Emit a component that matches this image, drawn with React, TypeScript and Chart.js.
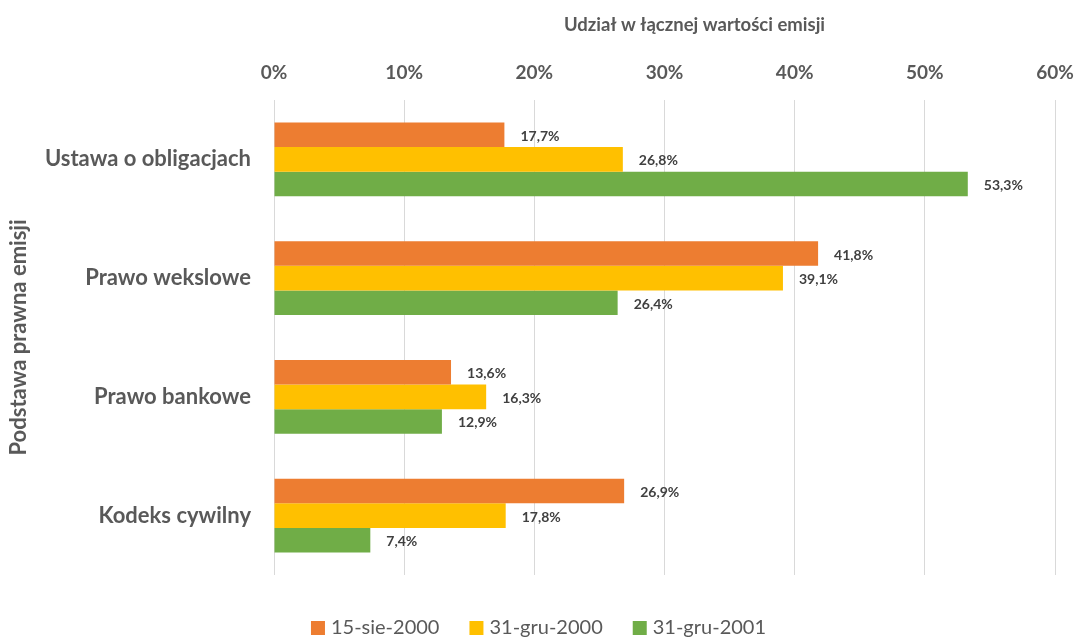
import React, { useEffect, useRef } from "react";
import { Chart, registerables } from "chart.js";

Chart.register(...registerables);

const categories = ["Ustawa o obligacjach", "Prawo wekslowe", "Prawo bankowe", "Kodeks cywilny"];
const seriesNames = ["15-sie-2000", "31-gru-2000", "31-gru-2001"];
const series1 = [17.7, 41.8, 13.6, 26.9];
const series2 = [26.8, 39.1, 16.3, 17.8];
const series3 = [53.3, 26.4, 12.9, 7.4];
const colors = ["#ED7D31", "#FFC000", "#70AD47"];
const xTitle = "Udział w łącznej wartości emisji";
const yTitle = "Podstawa prawna emisji";

const FONT = "Lato, 'Open Sans', sans-serif";
const GRAY = "#595959";

const labelPlugin = {
  id: "barLabels",
  afterDatasetsDraw(chart: any) {
    const ctx = chart.ctx;
    ctx.save();
    ctx.font = `bold 14px ${FONT}`;
    ctx.fillStyle = "#404040";
    ctx.textAlign = "left";
    ctx.textBaseline = "middle";
    chart.data.datasets.forEach((ds: any, i: number) => {
      const meta = chart.getDatasetMeta(i);
      meta.data.forEach((bar: any, j: number) => {
        const v = ds.data[j];
        const txt = v.toFixed(1).replace(".", ",") + "%";
        ctx.fillText(txt, bar.x + 16, bar.y + 1.5);
      });
    });
    ctx.restore();
  },
};

const titleLegendPlugin = {
  id: "titleLegend",
  afterDraw(chart: any) {
    const ctx = chart.ctx;
    ctx.save();
    // x-axis title
    ctx.font = `bold 18.5px ${FONT}`;
    ctx.fillStyle = GRAY;
    ctx.textAlign = "center";
    ctx.textBaseline = "middle";
    ctx.fillText(xTitle, chart.chartArea.left + (chart.chartArea.right - chart.chartArea.left) / 2 + 30, 25);
    // legend
    ctx.font = `20px ${FONT}`;
    ctx.textAlign = "left";
    const box = 14, gapText = 6, gapItem = 30;
    const widths = seriesNames.map((n) => ctx.measureText(n).width);
    const total = widths.reduce((a, w) => a + box + gapText + w, 0) + gapItem * (seriesNames.length - 1);
    let x = chart.width / 2 - total / 2;
    const y = 628;
    seriesNames.forEach((n, i) => {
      ctx.fillStyle = colors[i];
      ctx.fillRect(x, y - box / 2, box, box);
      x += box + gapText;
      ctx.fillStyle = GRAY;
      ctx.fillText(n, x, y);
      x += widths[i] + gapItem;
    });
    ctx.restore();
  },
};

export default function App() {
  const ref = useRef<HTMLCanvasElement>(null);
  useEffect(() => {
    if (!ref.current) return;
    const chart = new Chart(ref.current, {
      type: "bar",
      data: {
        labels: categories,
        datasets: [series1, series2, series3].map((d, i) => ({
          label: seriesNames[i],
          data: d,
          backgroundColor: colors[i],
          borderWidth: 0,
          barPercentage: 1,
          categoryPercentage: 0.62,
        })),
      },
      options: {
        indexAxis: "y",
        animation: false,
        responsive: false,
        maintainAspectRatio: false,
        layout: { padding: { top: 0, right: 0, bottom: 64, left: 0 } },
        plugins: {
          legend: { display: false },
          tooltip: { enabled: false },
        },
        scales: {
          x: {
            position: "top",
            min: 0,
            max: 60,
            ticks: {
              stepSize: 10,
              callback: (v: any) => v + "%",
              font: { family: FONT, size: 19, weight: "bold" },
              color: GRAY,
              padding: 16,
            },
            grid: { color: "#D9D9D9", drawTicks: false },
            border: { display: false },
            afterFit: (s: any) => { s.height = 100; s.paddingRight = 22; s.paddingLeft = 0; },
          },
          y: {
            ticks: {
              font: { family: FONT, size: 22, weight: "bold" },
              color: GRAY,
              padding: 15,
            },
            grid: { display: false },
            border: { display: false },
            title: {
              display: true,
              text: yTitle,
              font: { family: FONT, size: 22, weight: "bold" },
              color: GRAY,
              padding: { top: 6, bottom: 0 },
            },
            afterFit: (s: any) => { s.width = 274; },
          },
        },
      },
      plugins: [labelPlugin, titleLegendPlugin],
    });
    return () => chart.destroy();
  }, []);
  return (
    <div style={{ position: "absolute", left: 0, top: 0, width: 1077, height: 639 }}>
      <canvas ref={ref} width={1077} height={639} style={{ width: 1077, height: 639 }} />
    </div>
  );
}
